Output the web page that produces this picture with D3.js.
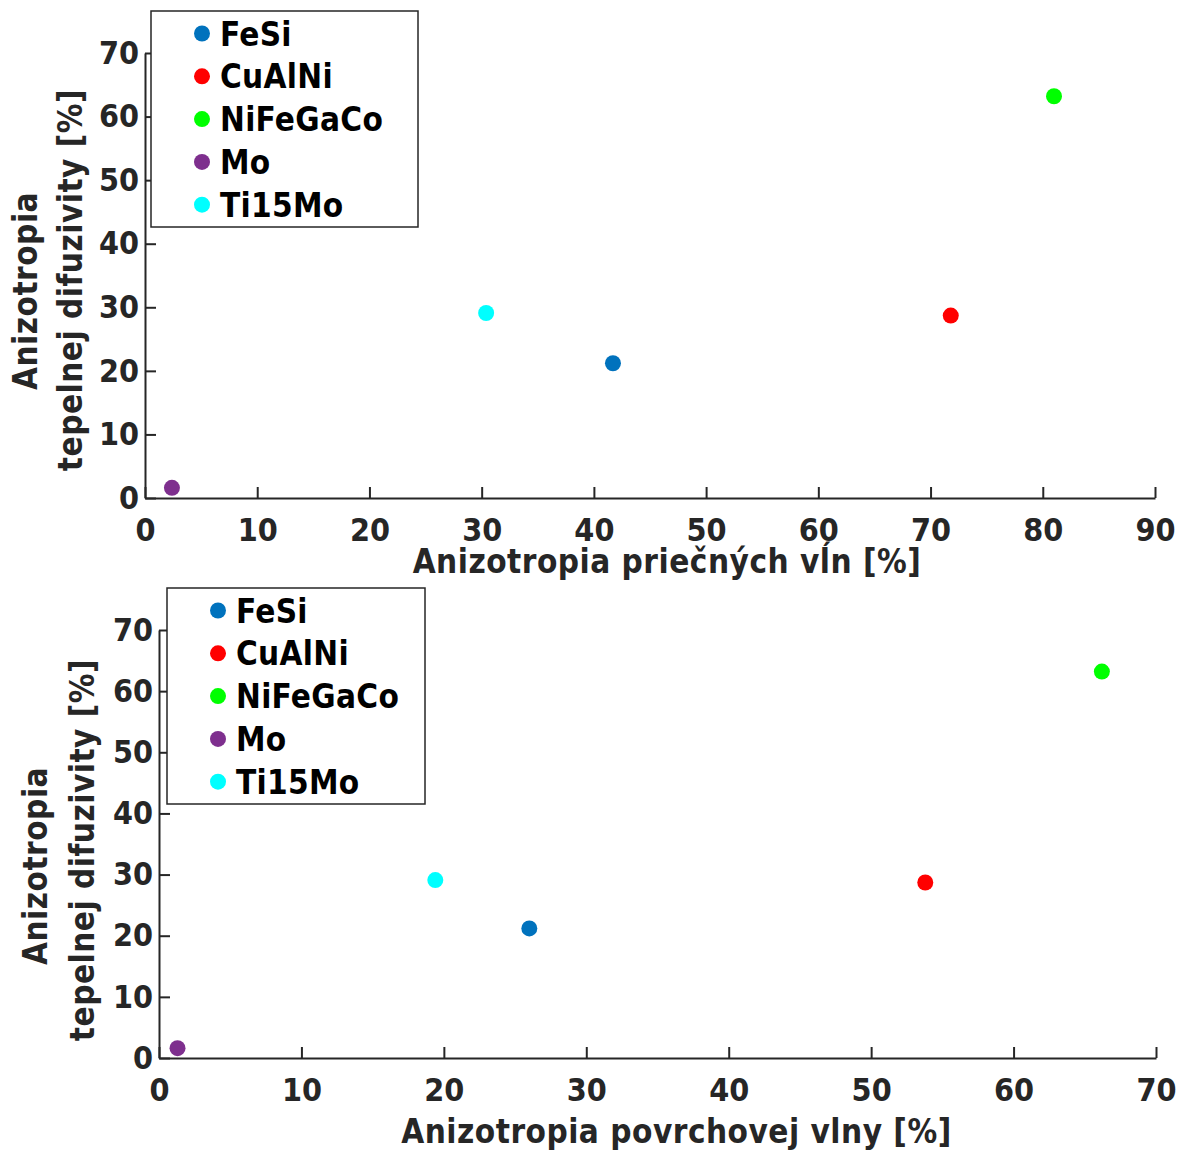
<!DOCTYPE html>
<html>
<head>
<meta charset="utf-8">
<script src="https://cdn.jsdelivr.net/npm/d3@7"></script>
<style>
    body { margin: 0; background: #fff; }
    svg text { font-family: "DejaVu Sans Condensed", "DejaVu Sans", sans-serif; font-weight: bold; }
</style>
</head>
<body>
<div id="chart"></div>
<script>
// Materials (same order in both panels)
const materials = ["FeSi", "CuAlNi", "NiFeGaCo", "Mo", "Ti15Mo"];
const colors = ["#0072BD", "#FF0000", "#00FF00", "#7E2F8E", "#00FFFF"];

// Thermal diffusivity anisotropy [%] (y, shared)
const diffusivity = [21.2, 28.7, 63.2, 1.6, 29.1];
// Transverse wave anisotropy [%] (x, top panel)
const transverse = [41.7, 71.8, 81.0, 2.4, 30.4];
// Surface wave anisotropy [%] (x, bottom panel)
const surface = [26.0, 53.8, 66.2, 1.3, 19.4];

const xTicksTop = [0, 10, 20, 30, 40, 50, 60, 70, 80, 90];
const xTicksBottom = [0, 10, 20, 30, 40, 50, 60, 70];
const yTicks = [0, 10, 20, 30, 40, 50, 60, 70];

const W = 1187, H = 1152;
const axisColor = "#262626";
const tickFont = 32;
const labelFont = 33;

const svg = d3.select("#chart")
    .append("svg")
        .attr("width", W)
        .attr("height", H);

function drawPanel(p) {
    const x = d3.scaleLinear().domain([0, p.xMax]).range([p.left, p.right]);
    const y = d3.scaleLinear().domain([0, 70]).range([p.bottom, p.top]);

    const g = svg.append("g");

    // Axes (ticks pointing inward, box off)
    const xAxis = g.append("g")
        .attr("transform", `translate(0,${p.bottom})`)
        .call(d3.axisBottom(x).tickValues(p.xTicks).tickSize(-11).tickSizeOuter(0).tickPadding(20));
    const yAxis = g.append("g")
        .attr("transform", `translate(${p.left},0)`)
        .call(d3.axisLeft(y).tickValues(yTicks).tickSize(-11).tickSizeOuter(0).tickPadding(6));

    [xAxis, yAxis].forEach(a => {
        a.select(".domain").attr("stroke", axisColor).attr("stroke-width", 2);
        a.selectAll(".tick line").attr("stroke", axisColor).attr("stroke-width", 2);
        a.selectAll(".tick text")
            .attr("fill", axisColor)
            .style("font-size", tickFont + "px");
    });

    // Axis labels
    g.append("text")
        .attr("x", (p.left + p.right) / 2 + p.xLabelShift)
        .attr("y", p.xLabelY)
        .attr("text-anchor", "middle")
        .attr("fill", axisColor)
        .style("font-size", labelFont + "px")
        .style("letter-spacing", "0.5px")
        .text(p.xLabel);

    ["Anizotropia", "tepelnej difuzivity [%]"].forEach((t, i) => {
        g.append("text")
            .attr("transform", `translate(${p.yLabelX[i]},${p.yLabelY[i]}) rotate(-90)`)
            .attr("text-anchor", "middle")
            .attr("fill", axisColor)
            .style("font-size", labelFont + "px")
            .style("letter-spacing", "0.5px")
            .text(t);
    });

    // Points
    g.append("g")
        .selectAll("circle")
        .data(materials)
        .enter()
        .append("circle")
            .attr("cx", (d, i) => x(p.xValues[i]))
            .attr("cy", (d, i) => y(diffusivity[i]))
            .attr("r", 8)
            .attr("fill", (d, i) => colors[i]);

    // Legend
    const leg = g.append("g").attr("transform", `translate(${p.legend[0]},${p.legend[1]})`);
    leg.append("rect")
        .attr("width", p.legend[2])
        .attr("height", 216)
        .attr("fill", "#fff")
        .attr("stroke", axisColor)
        .attr("stroke-width", 1.5);
    const rows = leg.selectAll("g.row")
        .data(materials)
        .enter()
        .append("g")
            .attr("class", "row")
            .attr("transform", (d, i) => `translate(0,${22.5 + i * 42.8})`);
    rows.append("circle")
        .attr("cx", 51)
        .attr("r", 8)
        .attr("fill", (d, i) => colors[i]);
    rows.append("text")
        .attr("x", 69)
        .attr("y", 12)
        .attr("fill", "#000")
        .style("font-size", labelFont + "px")
        .style("letter-spacing", "0.3px")
        .text(d => d);
}

drawPanel({
    left: 145, right: 1155, top: 53, bottom: 498, xMax: 90,
    xTicks: xTicksTop, xValues: transverse,
    xLabel: "Anizotropia priečných vĺn [%]", xLabelY: 573, xLabelShift: 17,
    yLabelX: [37, 82], yLabelY: [291, 280], legend: [151, 11, 267]
});

drawPanel({
    left: 159, right: 1156, top: 630, bottom: 1058, xMax: 70,
    xTicks: xTicksBottom, xValues: surface,
    xLabel: "Anizotropia povrchovej vlny [%]", xLabelY: 1143, xLabelShift: 19,
    yLabelX: [47, 94], yLabelY: [866, 850], legend: [167, 588, 258]
});
</script>
</body>
</html>
